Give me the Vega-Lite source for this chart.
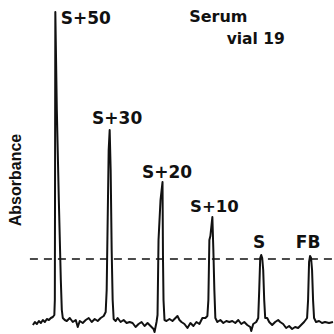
{
  "$schema": "https://vega.github.io/schema/vega-lite/v6.json",
  "width": 334,
  "height": 334,
  "autosize": {"type": "fit", "contains": "padding"},
  "padding": 0,
  "background": "white",
  "config": {"view": {"stroke": null}},
  "datasets": {
    "trace": [
      {"t":33,"a":9},{"t":35,"a":12},{"t":37,"a":10},{"t":39,"a":13},{"t":41,"a":11},{"t":43,"a":14},{"t":45,"a":12},{"t":47,"a":15},{"t":49,"a":14},{"t":51,"a":16},{"t":53,"a":17},{"t":54.5,"a":19},{"t":55,"a":34},{"t":55.5,"a":322},{"t":57,"a":224},{"t":59,"a":134},{"t":61,"a":54},{"t":62,"a":24},{"t":63,"a":16},{"t":65,"a":14},{"t":67,"a":13},{"t":70,"a":16},{"t":73,"a":12},{"t":76,"a":14},{"t":78,"a":7},{"t":80,"a":13},{"t":83,"a":11},{"t":86,"a":14},{"t":89,"a":16},{"t":92,"a":12},{"t":95,"a":15},{"t":98,"a":13},{"t":101,"a":16},{"t":104,"a":18},{"t":106,"a":22},{"t":107,"a":44},{"t":109,"a":184},{"t":110,"a":204},{"t":111,"a":164},{"t":112,"a":84},{"t":113,"a":34},{"t":114,"a":15},{"t":116,"a":13},{"t":118,"a":16},{"t":121,"a":12},{"t":124,"a":14},{"t":127,"a":11},{"t":130,"a":12},{"t":133,"a":11},{"t":136,"a":7},{"t":139,"a":10},{"t":142,"a":12},{"t":145,"a":8},{"t":148,"a":11},{"t":151,"a":8},{"t":154,"a":5},{"t":155,"a":2},{"t":157,"a":12},{"t":158,"a":19},{"t":159,"a":94},{"t":161,"a":134},{"t":163,"a":152},{"t":163.5,"a":74},{"t":164,"a":34},{"t":165,"a":14},{"t":167,"a":13},{"t":170,"a":15},{"t":173,"a":13},{"t":176,"a":16},{"t":178,"a":18},{"t":180,"a":14},{"t":182,"a":12},{"t":185,"a":10},{"t":188,"a":6},{"t":191,"a":11},{"t":194,"a":8},{"t":197,"a":12},{"t":200,"a":10},{"t":203,"a":16},{"t":206,"a":16},{"t":208,"a":18},{"t":209,"a":34},{"t":210,"a":94},{"t":211,"a":98},{"t":213,"a":117},{"t":214,"a":84},{"t":215,"a":44},{"t":216,"a":16},{"t":218,"a":12},{"t":221,"a":14},{"t":224,"a":11},{"t":227,"a":13},{"t":230,"a":12},{"t":233,"a":13},{"t":236,"a":11},{"t":239,"a":14},{"t":242,"a":10},{"t":245,"a":12},{"t":248,"a":9},{"t":251,"a":7},{"t":252,"a":3},{"t":254,"a":10},{"t":257,"a":12},{"t":259,"a":16},{"t":260,"a":44},{"t":261,"a":76},{"t":262,"a":79},{"t":263,"a":76},{"t":264,"a":64},{"t":265,"a":34},{"t":266,"a":16},{"t":268,"a":16},{"t":270,"a":12},{"t":273,"a":9},{"t":276,"a":12},{"t":279,"a":14},{"t":281,"a":12},{"t":284,"a":10},{"t":287,"a":6},{"t":290,"a":8},{"t":293,"a":5},{"t":296,"a":7},{"t":299,"a":6},{"t":302,"a":9},{"t":305,"a":12},{"t":308,"a":16},{"t":309,"a":34},{"t":310,"a":72},{"t":311,"a":78},{"t":312,"a":76},{"t":313,"a":64},{"t":314,"a":34},{"t":315,"a":16},{"t":317,"a":12},{"t":320,"a":13},{"t":323,"a":11},{"t":326,"a":12},{"t":330,"a":11},{"t":334,"a":12}
    ],
    "labels": [
      {"label":"S+50","t":86,"a":315,"size":17},
      {"label":"S+30","t":117.5,"a":215,"size":17},
      {"label":"S+20","t":167.5,"a":161.5,"size":17},
      {"label":"S+10","t":215,"a":127.5,"size":16.5},
      {"label":"S","t":260,"a":91.5,"size":17},
      {"label":"FB","t":309,"a":91.5,"size":17},
      {"label":"Serum","t":219,"a":317,"size":16},
      {"label":"vial 19","t":256.5,"a":295,"size":15.5}
    ],
    "axislabel": [{"label":"Absorbance","t":16,"a":154}],
    "dash": [{"t":30,"t2":334,"a":75}]
  },
  "layer": [
    {
      "data": {"name": "dash"},
      "mark": {"type": "rule", "color": "#111", "strokeWidth": 1.6, "strokeDash": [8, 6]},
      "encoding": {
        "x": {"field": "t", "type": "quantitative", "scale": {"domain": [0, 334], "nice": false, "zero": false}, "axis": null},
        "x2": {"field": "t2"},
        "y": {"field": "a", "type": "quantitative", "scale": {"domain": [0, 334], "nice": false, "zero": false}, "axis": null}
      }
    },
    {
      "data": {"name": "trace"},
      "mark": {"type": "line", "color": "#111", "strokeWidth": 2, "strokeJoin": "round"},
      "encoding": {
        "x": {"field": "t", "type": "quantitative"},
        "y": {"field": "a", "type": "quantitative"}
      }
    },
    {
      "data": {"name": "labels"},
      "mark": {"type": "text", "font": "DejaVu Sans", "fontWeight": "bold", "align": "center", "baseline": "middle", "color": "#111"},
      "encoding": {
        "x": {"field": "t", "type": "quantitative"},
        "y": {"field": "a", "type": "quantitative"},
        "text": {"field": "label"},
        "size": {"field": "size", "type": "quantitative", "scale": null}
      }
    },
    {
      "data": {"name": "axislabel"},
      "mark": {"type": "text", "font": "Liberation Sans", "fontWeight": "bold", "fontSize": 16, "angle": 270, "align": "center", "baseline": "middle", "color": "#111"},
      "encoding": {
        "x": {"field": "t", "type": "quantitative"},
        "y": {"field": "a", "type": "quantitative"},
        "text": {"field": "label"}
      }
    }
  ]
}
